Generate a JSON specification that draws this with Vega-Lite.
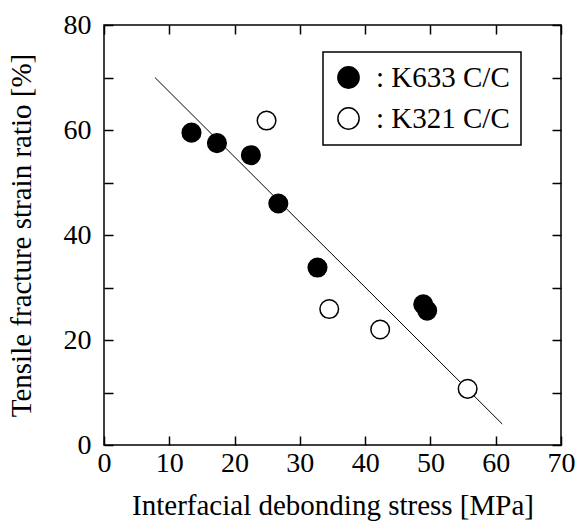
{
  "$schema": "https://vega.github.io/schema/vega-lite/v6.json",
  "width": 457,
  "height": 420,
  "autosize": {"type": "none"},
  "padding": {"left": 104, "top": 25, "right": 15, "bottom": 77},
  "background": "white",
  "config": {
    "view": {"stroke": "black", "strokeWidth": 1.5},
    "axis": {
      "domain": false,
      "grid": false,
      "ticks": true,
      "tickColor": "black",
      "tickOpacity": 1,
      "tickWidth": 1.5,
      "tickSize": 9,
      "offset": -9,
      "labelFlush": false,
      "labelColor": "black",
      "labelFont": "Liberation Serif",
      "labelFontSize": 28,
      "titleFont": "Liberation Serif",
      "titleFontSize": 29,
      "titleFontWeight": "normal",
      "titleColor": "black",
      "zindex": 1
    }
  },
  "resolve": {"axis": {"x": "independent", "y": "independent"}},
  "layer": [
    {
      "data": {"values": [
        {"stress": 7.8, "ratio": 70},
        {"stress": 61, "ratio": 4}
      ]},
      "mark": {"type": "line", "color": "black", "strokeWidth": 1},
      "encoding": {
        "x": {"field": "stress", "type": "quantitative",
          "scale": {"domain": [0, 70], "nice": false, "zero": false},
          "axis": {"orient": "top", "title": null, "labels": false, "ticks": true, "tickColor": "black", "tickSize": 9, "values": [0,10,20,30,40,50,60,70]}},
        "y": {"field": "ratio", "type": "quantitative",
          "scale": {"domain": [0, 80], "nice": false, "zero": false},
          "axis": {"orient": "right", "title": null, "labels": false, "ticks": true, "tickColor": "black", "tickSize": 9, "values": [0,10,20,30,40,50,60,70,80]}}
      }
    },
    {
      "data": {"values": [
        {"series": "K321 C/C", "stress": 24.9, "ratio": 61.8},
        {"series": "K321 C/C", "stress": 34.5, "ratio": 25.9},
        {"series": "K321 C/C", "stress": 42.3, "ratio": 22.0},
        {"series": "K321 C/C", "stress": 55.7, "ratio": 10.7},
        {"series": "K633 C/C", "stress": 13.4, "ratio": 59.5},
        {"series": "K633 C/C", "stress": 17.3, "ratio": 57.5},
        {"series": "K633 C/C", "stress": 22.5, "ratio": 55.2},
        {"series": "K633 C/C", "stress": 26.7, "ratio": 46.0},
        {"series": "K633 C/C", "stress": 32.7, "ratio": 33.8},
        {"series": "K633 C/C", "stress": 48.9, "ratio": 26.8},
        {"series": "K633 C/C", "stress": 49.5, "ratio": 25.6}
      ]},
      "mark": {"type": "point", "shape": "circle", "filled": true, "size": 346, "stroke": "black", "strokeWidth": 1.5, "opacity": 1},
      "encoding": {
        "x": {
          "field": "stress", "type": "quantitative",
          "scale": {"domain": [0, 70], "nice": false, "zero": false},
          "axis": {"orient": "bottom", "title": "Interfacial debonding stress [MPa]", "ticks": true, "tickColor": "black", "tickSize": 9, "values": [0,10,20,30,40,50,60,70], "labelPadding": 4, "titlePadding": 14}
        },
        "y": {
          "field": "ratio", "type": "quantitative",
          "scale": {"domain": [0, 80], "nice": false, "zero": false},
          "axis": {"orient": "left", "title": "Tensile fracture strain ratio [%]", "ticks": true, "tickColor": "black", "tickSize": 9, "values": [0,10,20,30,40,50,60,70,80], "labelExpr": "datum.value % 20 == 0 ? datum.label : ''", "labelPadding": 13, "titlePadding": 27}
        },
        "fill": {
          "field": "series", "type": "nominal",
          "scale": {"domain": ["K633 C/C", "K321 C/C"], "range": ["black", "white"]},
          "legend": {
            "title": null,
            "orient": "none",
            "legendX": 219,
            "legendY": 27,
            "padding": 11,
            "strokeColor": "black",
            "fillColor": "white",
            "symbolType": "circle",
            "symbolSize": 452,
            "symbolStrokeColor": "black",
            "symbolStrokeWidth": 1.5,
            "symbolOpacity": 1,
            "labelFont": "Liberation Serif",
            "labelFontSize": 29,
            "labelColor": "black",
            "labelOffset": 13,
            "labelLimit": 400,
            "rowPadding": 11,
            "labelExpr": "': ' + datum.label + '\u00a0\u00a0\u00a0'",
            "encode": {"legend": {"update": {"strokeWidth": {"value": 1.5}}}}
          }
        }
      }
    }
  ]
}
